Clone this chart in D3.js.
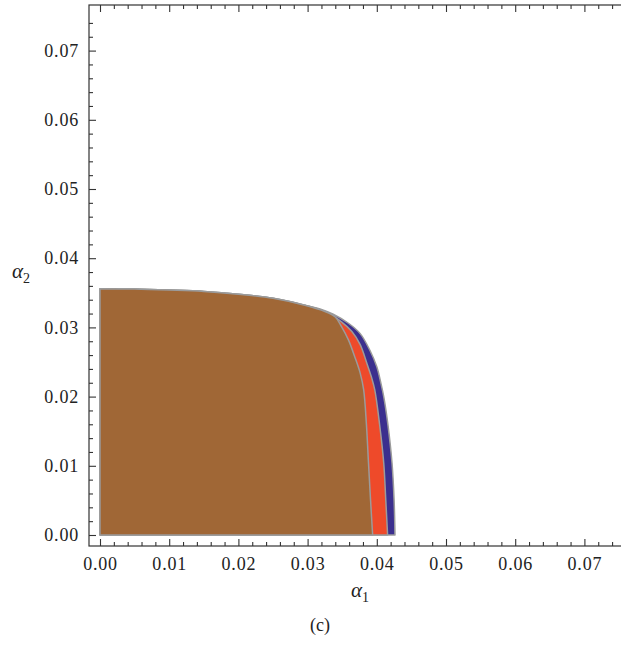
<!DOCTYPE html>
<html>
<head>
<meta charset="utf-8">
<script src="https://cdn.jsdelivr.net/npm/d3@7"></script>
<style>
  html, body { margin: 0; padding: 0; background: #fff; }
  svg { display: block; }
  .tick text { font-family: "Liberation Serif", "Times New Roman", serif; font-size: 18px; letter-spacing: 0.8px; fill: #222; }
</style>
</head>
<body>
<svg id="chart" width="621" height="645"></svg>
<script>
// Stability-region boundaries in the (α1, α2) plane, listed from the α2-axis
// down to the α1-axis. The three regions share the upper boundary.
const sharedTop = [[0, 0.0356], [0.005, 0.03555], [0.010, 0.0354], [0.015, 0.0352],
  [0.020, 0.0348], [0.025, 0.0342], [0.0296, 0.0332]];

const brownEdge = [[0.0325, 0.0323], [0.0340, 0.0315], [0.0349, 0.0301], [0.0359, 0.0282],
  [0.0368, 0.0258], [0.0376, 0.0234], [0.0381, 0.0210], [0.0385, 0.0160],
  [0.0388, 0.0104], [0.0391, 0.0050], [0.0394, 0]];

const redEdge = [[0.0320, 0.0325], [0.0332, 0.0319], [0.0349, 0.0308], [0.0364, 0.0294],
  [0.0376, 0.0275], [0.0385, 0.0250], [0.0392, 0.0229], [0.0397, 0.0210],
  [0.0404, 0.0160], [0.0410, 0.0104], [0.0413, 0.0050], [0.04156, 0]];

const blueEdge = [[0.0320, 0.0326], [0.0337, 0.0319], [0.0359, 0.0306], [0.0376, 0.0291],
  [0.0390, 0.0267], [0.0400, 0.0243], [0.0406, 0.0219], [0.0410, 0.0200],
  [0.0416, 0.0160], [0.0422, 0.0104], [0.0425, 0.0050], [0.04263, 0]];

const regionNames = ["outer", "middle", "inner"];
const regionEdges = [blueEdge, redEdge, brownEdge];
const regionColors = ["#3b2f8e", "#ee4a2a", "#a06736"];

const majorTicks = [0, 0.01, 0.02, 0.03, 0.04, 0.05, 0.06, 0.07];
const minorTicks = d3.range(0, 38).map(i => i * 0.002).filter(v => Math.abs(v * 100 - Math.round(v * 100)) > 1e-9);

const svg = d3.select("#chart");
const x = d3.scaleLinear().domain([0, 0.075]).range([100, 619]);
const y = d3.scaleLinear().domain([0, 0.075]).range([535, 16]);
const pad = 11;
const frameL = x(0) - pad, frameR = x(0.075) + pad, frameT = y(0.075) - pad, frameB = y(0) + pad;

// Filled regions, largest first
const line = d3.line().x(d => x(d[0])).y(d => y(d[1])).curve(d3.curveCatmullRom.alpha(0.5));
regionEdges.forEach((edge, i) => {
  const boundary = line(sharedTop.concat(edge));
  svg.append("path")
    .attr("class", "region " + regionNames[i])
    .attr("d", `M${x(0)},${y(0)}L` + boundary.slice(1) + `L${x(0)},${y(0)}Z`)
    .attr("fill", regionColors[i])
    .attr("stroke", "#9b9b9b")
    .attr("stroke-width", 1.5)
    .attr("stroke-linejoin", "round");
});

// Frame
svg.append("rect")
  .attr("x", frameL).attr("y", frameT)
  .attr("width", frameR - frameL).attr("height", frameB - frameT)
  .attr("fill", "none").attr("stroke", "#333").attr("stroke-width", 1.2);

function styleAxis(g) {
  g.select(".domain").remove();
  g.selectAll(".tick line").attr("stroke", "#333").attr("stroke-width", 1.1);
}

// Major ticks with labels (bottom, left), ticks only on top
svg.append("g").attr("transform", `translate(0,${frameB})`)
  .call(d3.axisBottom(x).tickValues(majorTicks).tickFormat(d3.format(".2f")).tickSizeInner(-7).tickSizeOuter(0).tickPadding(11))
  .call(styleAxis);
svg.append("g").attr("transform", `translate(${frameL},0)`)
  .call(d3.axisLeft(y).tickValues(majorTicks).tickFormat(d3.format(".2f")).tickSizeInner(-7).tickSizeOuter(0).tickPadding(10))
  .call(styleAxis);
svg.append("g").attr("transform", `translate(0,${frameT})`)
  .call(d3.axisTop(x).tickValues(majorTicks).tickFormat("").tickSizeInner(-7).tickSizeOuter(0))
  .call(styleAxis);

// Minor ticks
svg.append("g").attr("transform", `translate(0,${frameB})`)
  .call(d3.axisBottom(x).tickValues(minorTicks).tickFormat("").tickSizeInner(-4).tickSizeOuter(0))
  .call(styleAxis);
svg.append("g").attr("transform", `translate(${frameL},0)`)
  .call(d3.axisLeft(y).tickValues(minorTicks).tickFormat("").tickSizeInner(-4).tickSizeOuter(0))
  .call(styleAxis);
svg.append("g").attr("transform", `translate(0,${frameT})`)
  .call(d3.axisTop(x).tickValues(minorTicks).tickFormat("").tickSizeInner(-4).tickSizeOuter(0))
  .call(styleAxis);

// Axis titles
const serif = '"Liberation Serif", "Times New Roman", serif';
const xt = svg.append("text").attr("x", 360).attr("y", 597)
  .attr("text-anchor", "middle").attr("font-family", serif).attr("fill", "#222");
xt.append("tspan").attr("font-style", "italic").attr("font-size", 21).text("α");
xt.append("tspan").attr("font-size", 14).attr("dy", 5).text("1");

const yt = svg.append("text").attr("x", 12).attr("y", 278)
  .attr("font-family", serif).attr("fill", "#222");
yt.append("tspan").attr("font-style", "italic").attr("font-size", 21).text("α");
yt.append("tspan").attr("font-size", 14).attr("dy", 5).text("2");

// Panel caption
svg.append("text").attr("x", 320).attr("y", 631)
  .attr("text-anchor", "middle").attr("font-family", serif).attr("font-size", 18)
  .attr("fill", "#222").text("(c)");
</script>
</body>
</html>
